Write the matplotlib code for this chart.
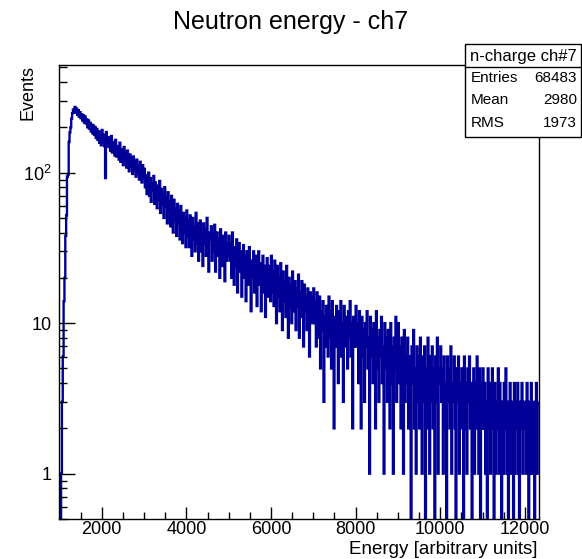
import numpy as np
import matplotlib
matplotlib.use('Agg')
import matplotlib.pyplot as plt
from matplotlib.patches import Rectangle
from matplotlib.lines import Line2D

plt.rcParams['font.family'] = ['Liberation Sans', 'DejaVu Sans']
plt.rcParams['mathtext.fontset'] = 'custom'
plt.rcParams['mathtext.rm'] = 'Liberation Sans'

# histogram: first edge, bin width, counts per bin
x_start = 1000
bin_width = 20
counts = [
    # 1000 - 2000
    0, 0, 1, 3, 6, 14, 20, 38, 52, 94, 97, 160, 185, 200, 228, 248, 262, 250, 273, 255,
    266, 242, 260, 235, 252, 230, 244, 222, 240, 215, 236, 212, 226, 200, 222, 196, 214, 188, 208, 182,
    205, 178, 200, 170, 195, 165, 188, 158, 184, 152,
    # 2000 - 3000
    192, 160, 178, 150, 92, 186, 155, 172, 148, 168, 140, 175, 136, 160, 145, 130, 165, 128, 150, 138,
    122, 158, 118, 142, 130, 112, 148, 120, 135, 108, 140, 115, 102, 132, 110, 125, 98, 128, 105, 118,
    94, 122, 100, 112, 90, 118, 96, 86, 112, 92,
    # 3000 - 4000
    106, 80, 96, 72, 88, 100, 70, 92, 64, 84, 76, 95, 62, 86, 70, 58, 82, 66, 88, 54,
    78, 62, 72, 50, 80, 60, 68, 46, 74, 56, 64, 44, 70, 52, 40, 66, 48, 58, 38, 62,
    46, 56, 36, 60, 42, 34, 54, 40, 50, 32,
    # 4000 - 5000
    56, 38, 48, 32, 52, 42, 28, 50, 36, 44, 30, 54, 34, 46, 26, 40, 48, 30, 38, 24,
    46, 34, 42, 28, 50, 32, 22, 40, 36, 44, 26, 38, 30, 45, 22, 34, 40, 28, 36, 20,
    42, 30, 24, 38, 32, 19, 40, 26, 34, 28,
    # 5000 - 6000
    38, 26, 34, 20, 40, 30, 18, 32, 24, 36, 16, 28, 34, 22, 30, 15, 26, 33, 20, 28,
    14, 30, 24, 18, 32, 22, 12, 26, 20, 30, 16, 24, 28, 13, 22, 30, 18, 25, 12, 20,
    28, 16, 24, 11, 22, 27, 15, 20, 24, 14,
    # 6000 - 7000
    28, 16, 22, 13, 26, 18, 10, 24, 15, 20, 12, 25, 17, 9, 22, 14, 19, 11, 24, 16,
    8, 20, 13, 18, 10, 22, 15, 12, 19, 9, 17, 13, 21, 8, 16, 11, 19, 14, 7, 18,
    12, 15, 9, 17, 11, 6, 16, 13, 10, 15,
    # 7000 - 8000
    17, 10, 14, 7, 16, 11, 8, 15, 5, 12, 9, 14, 3, 11, 7, 13, 10, 6, 15, 8,
    12, 5, 14, 9, 2, 11, 7, 13, 10, 4, 12, 8, 14, 6, 10, 3, 13, 9, 7, 11,
    5, 12, 8, 14, 6, 10, 2, 11, 7, 9,
    # 8000 - 9000
    13, 7, 10, 4, 12, 8, 2, 11, 6, 9, 3, 10, 7, 12, 5, 8, 1, 11, 6, 9,
    4, 10, 7, 2, 12, 5, 8, 3, 9, 6, 11, 4, 7, 1, 10, 5, 8, 3, 9, 6,
    2, 10, 4, 7, 1, 8, 5, 11, 3, 6,
    # 9000 - 10000
    10, 4, 7, 2, 8, 5, 1, 9, 3, 6, 4, 8, 2, 6, 3, 0, 7, 4, 9, 2,
    5, 1, 7, 3, 6, 2, 8, 4, 1, 6, 3, 7, 0, 5, 2, 8, 4, 1, 6, 3,
    7, 2, 5, 0, 6, 3, 8, 1, 4, 5,
    # 10000 - 11000
    7, 3, 5, 1, 6, 2, 4, 0, 6, 3, 5, 2, 7, 1, 4, 3, 6, 2, 0, 5,
    3, 6, 1, 4, 2, 5, 3, 0, 6, 2, 4, 1, 5, 3, 6, 2, 4, 0, 3, 5,
    1, 4, 2, 6, 3, 1, 5, 0, 4, 2,
    # 11000 - 12000
    5, 2, 4, 1, 3, 0, 5, 2, 4, 1, 3, 5, 2, 0, 4, 1, 3, 2, 5, 1,
    4, 2, 0, 3, 1, 4, 2, 5, 1, 3, 0, 2, 4, 1, 3, 2, 0, 4, 1, 3,
    2, 4, 1, 0, 3, 2, 4, 1, 2, 3,
    # 12000 - 12320
    3, 1, 4, 2, 0, 3, 1, 4, 2, 1, 3, 0, 2, 4, 1, 3,
]

stat_names = ['Entries', 'Mean', 'RMS']
stat_values = ['68483', '2980', '1973']

edges = x_start + bin_width * np.arange(len(counts) + 1)

fig = plt.figure(figsize=(5.82, 5.59), dpi=100)
ax = fig.add_axes([0.102, 0.0716, 0.824, 0.8124])

ax.stairs(counts, edges, baseline=None, color='#000099', lw=1.7)

ax.set_yscale('log', nonpositive='clip')
ax.set_xlim(1000, 12330)
ax.set_ylim(0.5, 520)

ax.set_xticks([2000, 4000, 6000, 8000, 10000, 12000])
ax.set_xticks(np.arange(1500, 12300, 500), minor=True)
ax.set_yticks([1, 10, 100])
ax.set_yticklabels(['1', '10', r'$\mathregular{10^{2}}$'])

ax.tick_params(axis='x', which='major', direction='in', length=9, width=1, labelsize=13, pad=1.5)
ax.tick_params(axis='x', which='minor', direction='in', length=5, width=1)
ax.tick_params(axis='y', which='major', direction='in', length=11.5, width=1, labelsize=13, pad=5.5)
ax.tick_params(axis='y', which='minor', direction='in', length=5.8, width=1)
for s in ax.spines.values():
    s.set_linewidth(1.0)

fig.text(0.5, 1 - 22 / 559, 'Neutron energy - ch7', ha='center', va='center', fontsize=18)
fig.text(0.048, 1 - 65 / 559, 'Events', rotation=90, ha='center', va='top', fontsize=13)
fig.text(0.923, 1 - 549 / 559, 'Energy [arbitrary units]', ha='right', va='center', fontsize=13.5)

# stats box
bx0, bx1 = 465 / 582, 581 / 582
by0, by1 = 1 - 137 / 559, 1 - 44 / 559
fig.patches.append(Rectangle((bx0, by0), bx1 - bx0, by1 - by0, transform=fig.transFigure,
                             facecolor='white', edgecolor='black', lw=1.0, zorder=5))
yh = 1 - 67 / 559
fig.lines.append(Line2D([bx0, bx1], [yh, yh], transform=fig.transFigure, color='black', lw=1.0, zorder=6))
fig.text((bx0 + bx1) / 2, 1 - 56 / 559, 'n-charge ch#7', ha='center', va='center', fontsize=12, zorder=7)
for i, (n, v) in enumerate(zip(stat_names, stat_values)):
    yy = 1 - (78 + 22.5 * i) / 559
    fig.text(471 / 582, yy, n, ha='left', va='center', fontsize=11, zorder=7)
    fig.text(577 / 582, yy, v, ha='right', va='center', fontsize=11, zorder=7)

fig.savefig('out.png', dpi=100)
